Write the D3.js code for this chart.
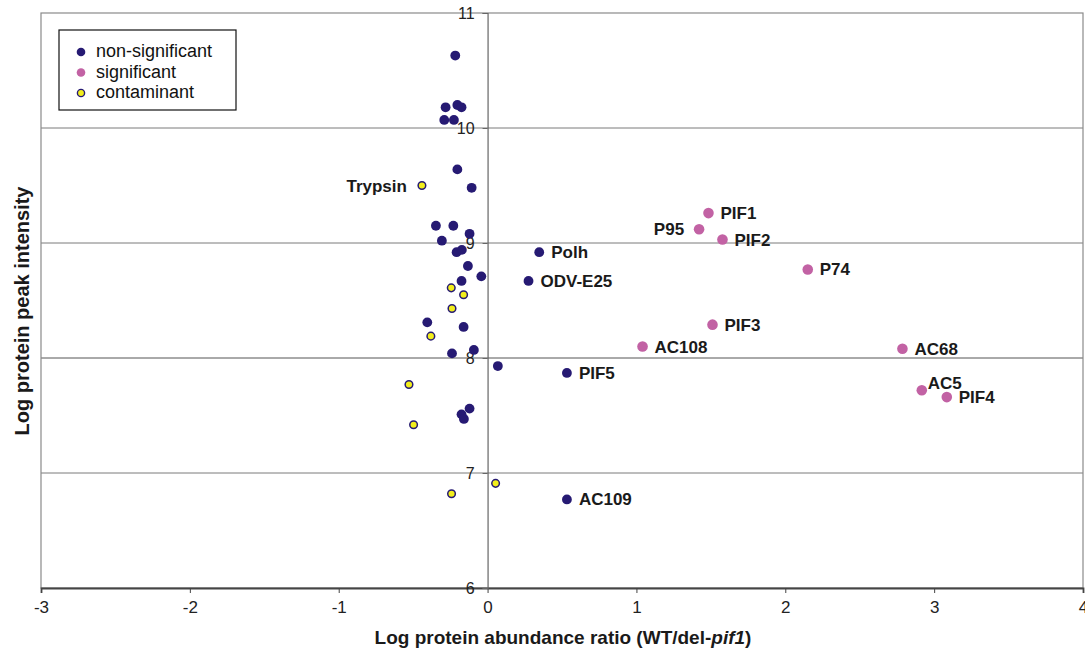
<!DOCTYPE html>
<html>
<head>
<meta charset="utf-8">
<script src="https://d3js.org/d3.v7.min.js"></script>
<style>
  body { margin: 0; background: #fff; }
  text { font-family: "Liberation Sans", Arial, sans-serif; }
  .tick text { fill: #222; }
  .pt-label { font-size: 17px; font-weight: bold; fill: #1a1a1a; }
  .title { font-weight: bold; fill: #1a1a1a; }
  .legend text { font-size: 18px; fill: #111; }
</style>
</head>
<body>
<script>
// values: [log ratio, log peak intensity, label]
var nonSignificant = [
  [-0.217, 10.63, ""], [-0.282, 10.18, ""], [-0.203, 10.20, ""], [-0.175, 10.18, ""],
  [-0.291, 10.07, ""], [-0.226, 10.07, ""], [-0.203, 9.64, ""], [-0.107, 9.48, ""],
  [-0.347, 9.15, ""], [-0.230, 9.15, ""], [-0.121, 9.08, ""], [-0.307, 9.02, ""],
  [-0.208, 8.92, ""], [-0.173, 8.94, ""], [0.347, 8.92, "Polh"], [-0.132, 8.80, ""],
  [-0.042, 8.71, ""], [-0.175, 8.67, ""], [0.275, 8.67, "ODV-E25"], [-0.405, 8.31, ""],
  [-0.161, 8.27, ""], [-0.239, 8.04, ""], [-0.092, 8.07, ""], [0.069, 7.93, ""],
  [0.533, 7.87, "PIF5"], [-0.121, 7.56, ""], [-0.175, 7.51, ""], [-0.159, 7.47, ""],
  [0.533, 6.77, "AC109"]
];
var significant = [
  [1.484, 9.26, "PIF1"], [1.421, 9.12, "P95"], [1.578, 9.03, "PIF2"], [2.151, 8.77, "P74"],
  [1.511, 8.29, "PIF3"], [1.041, 8.10, "AC108"], [2.787, 8.08, "AC68"], [2.917, 7.72, "AC5"],
  [3.085, 7.66, "PIF4"]
];
var contaminant = [
  [-0.441, 9.50, "Trypsin"], [-0.244, 8.61, ""], [-0.161, 8.55, ""], [-0.239, 8.43, ""],
  [-0.381, 8.19, ""], [-0.528, 7.77, ""], [-0.497, 7.42, ""], [0.054, 6.91, ""],
  [-0.242, 6.82, ""]
];
var xTicks = [-3, -2, -1, 0, 1, 2, 3, 4];
var yTicks = [6, 7, 8, 9, 10, 11];
var seriesNames = ["non-significant", "significant", "contaminant"];

var width = 1085, height = 651;
var navy = "#261a73", pink = "#c262a4", yellow = "#f2ee1c";
var leftLabels = ["Trypsin", "P95"];

var svg = d3.select("body").append("svg").attr("width", width).attr("height", height);

var x = d3.scaleLinear().domain([-3, 4]).range([41, 1083]);
var y = d3.scaleLinear().domain([6, 11]).range([588, 13]);

// grid lines
svg.append("g").selectAll("line").data([7, 8, 9, 10]).enter().append("line")
  .attr("x1", x(-3)).attr("x2", x(4))
  .attr("y1", function(d){ return y(d); }).attr("y2", function(d){ return y(d); })
  .attr("stroke", function(d){ return d === 8 ? "#555" : "#7a7a7a"; }).attr("stroke-width", 1);

// plot border
svg.append("rect").attr("x", x(-3)).attr("y", y(11))
  .attr("width", x(4) - x(-3)).attr("height", y(6) - y(11))
  .attr("fill", "none").attr("stroke", "#8a8a8a").attr("stroke-width", 1.2);

// x axis at bottom
var xAxis = svg.append("g").attr("transform", "translate(0," + y(6) + ")")
  .call(d3.axisBottom(x).tickValues(xTicks).tickSize(5).tickPadding(8)
    .tickFormat(function(d){ return String(d); }));
xAxis.select(".domain").attr("stroke", "#444").attr("stroke-width", 1.8);
xAxis.selectAll(".tick line").attr("stroke", "#444");
xAxis.selectAll(".tick text").style("font-size", "17px")
  .style("font-family", "'Liberation Sans Narrow', 'Liberation Sans', Arial, sans-serif");

// y axis through x = 0
var yAxis = svg.append("g").attr("transform", "translate(" + x(0) + ",0)")
  .call(d3.axisLeft(y).tickValues(yTicks).tickSize(5).tickPadding(8).tickFormat(d3.format("d")));
yAxis.select(".domain").attr("stroke", "#666").attr("stroke-width", 1.2);
yAxis.selectAll(".tick line").attr("stroke", "#666");
yAxis.selectAll(".tick text").style("font-size", "16px").attr("dy", "0.33em");

// axis titles
var xt = svg.append("text").attr("class", "title").attr("text-anchor", "middle")
  .style("font-size", "19px")
  .attr("x", (x(-3) + x(4)) / 2 + 1).attr("y", 644);
xt.append("tspan").text("Log protein abundance ratio (WT/del-");
xt.append("tspan").style("font-style", "italic").text("pif1");
xt.append("tspan").text(")");

svg.append("text").attr("class", "title").attr("text-anchor", "middle")
  .style("font-size", "20px")
  .attr("transform", "translate(29,311) rotate(-90)")
  .text("Log protein peak intensity");

// points
function drawSeries(data, fill, r, stroke) {
  svg.append("g").selectAll("circle").data(data).enter().append("circle")
    .attr("cx", function(d){ return x(d[0]); })
    .attr("cy", function(d){ return y(d[1]); })
    .attr("r", r)
    .attr("fill", fill)
    .attr("stroke", stroke || "none")
    .attr("stroke-width", stroke ? 1.5 : 0);
}
drawSeries(nonSignificant, navy, 4.9);
drawSeries(significant, pink, 5.3);
drawSeries(contaminant, yellow, 3.8, navy);

// point labels
var labelled = nonSignificant.concat(significant, contaminant).filter(function(d){ return d[2]; });
svg.append("g").selectAll("text").data(labelled).enter().append("text")
  .attr("class", "pt-label")
  .attr("x", function(d){ return leftLabels.indexOf(d[2]) >= 0 ? x(d[0]) - 15 : x(d[0]) + (d[2] === "AC5" ? 6 : 12); })
  .attr("y", function(d){ return y(d[1]) + (d[2] === "AC5" ? -1 : 6); })
  .attr("text-anchor", function(d){ return leftLabels.indexOf(d[2]) >= 0 ? "end" : "start"; })
  .text(function(d){ return d[2]; });

// legend
var legend = svg.append("g").attr("class", "legend");
legend.append("rect").attr("x", 59).attr("y", 30).attr("width", 177).attr("height", 80)
  .attr("fill", "#fff").attr("stroke", "#111").attr("stroke-width", 1.2);
var fills = [navy, pink, yellow];
var entries = legend.selectAll(".entry").data(seriesNames).enter().append("g")
  .attr("transform", function(d, i){ return "translate(81," + (52 + i * 20.5) + ")"; });
entries.append("circle").attr("r", function(d, i){ return i === 2 ? 3.6 : 4.3; })
  .attr("fill", function(d, i){ return fills[i]; })
  .attr("stroke", function(d, i){ return i === 2 ? navy : "none"; })
  .attr("stroke-width", 1.4);
entries.append("text").attr("x", 15).attr("y", 5).text(function(d){ return d; });
</script>
</body>
</html>
